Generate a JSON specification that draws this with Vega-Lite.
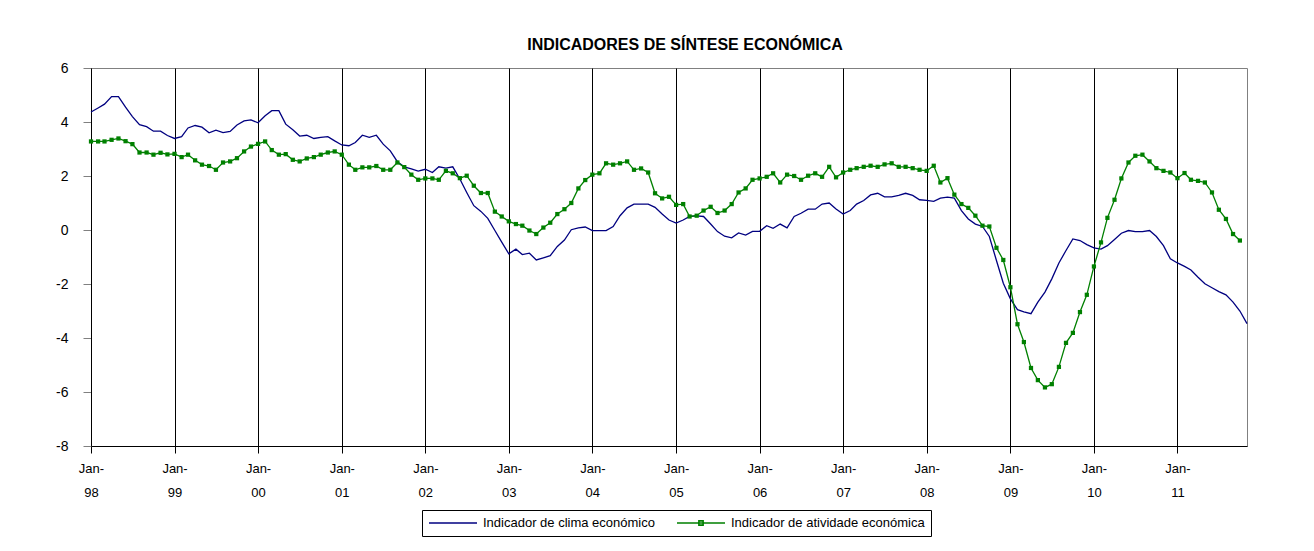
{
  "$schema": "https://vega.github.io/schema/vega-lite/v6.json",
  "width": 1156,
  "height": 378,
  "autosize": {"type": "none"},
  "padding": {"left": 91, "top": 68, "right": 67, "bottom": 105},
  "background": "white",
  "title": {"text": "INDICADORES DE SÍNTESE ECONÓMICA", "font": "Liberation Sans", "fontSize": 16, "fontWeight": "bold", "color": "#000000", "offset": 8, "anchor": "middle", "dx": 16},
  "data": {"values": [
    {"mes":"1998-01-01","clima":4.37,"atividade":3.28},{"mes":"1998-02-01","clima":4.52,"atividade":3.28},{"mes":"1998-03-01","clima":4.66,"atividade":3.28},{"mes":"1998-04-01","clima":4.94,"atividade":3.34},{"mes":"1998-05-01","clima":4.94,"atividade":3.39},{"mes":"1998-06-01","clima":4.55,"atividade":3.29},{"mes":"1998-07-01","clima":4.20,"atividade":3.18},{"mes":"1998-08-01","clima":3.90,"atividade":2.87},{"mes":"1998-09-01","clima":3.83,"atividade":2.87},{"mes":"1998-10-01","clima":3.66,"atividade":2.79},{"mes":"1998-11-01","clima":3.66,"atividade":2.86},{"mes":"1998-12-01","clima":3.50,"atividade":2.80},
    {"mes":"1999-01-01","clima":3.39,"atividade":2.82},{"mes":"1999-02-01","clima":3.46,"atividade":2.70},{"mes":"1999-03-01","clima":3.78,"atividade":2.79},{"mes":"1999-04-01","clima":3.87,"atividade":2.58},{"mes":"1999-05-01","clima":3.81,"atividade":2.42},{"mes":"1999-06-01","clima":3.60,"atividade":2.37},{"mes":"1999-07-01","clima":3.70,"atividade":2.23},{"mes":"1999-08-01","clima":3.61,"atividade":2.50},{"mes":"1999-09-01","clima":3.65,"atividade":2.54},{"mes":"1999-10-01","clima":3.89,"atividade":2.66},{"mes":"1999-11-01","clima":4.04,"atividade":2.91},{"mes":"1999-12-01","clima":4.08,"atividade":3.09},
    {"mes":"2000-01-01","clima":3.97,"atividade":3.19},{"mes":"2000-02-01","clima":4.23,"atividade":3.28},{"mes":"2000-03-01","clima":4.42,"atividade":2.96},{"mes":"2000-04-01","clima":4.42,"atividade":2.79},{"mes":"2000-05-01","clima":3.92,"atividade":2.81},{"mes":"2000-06-01","clima":3.71,"atividade":2.60},{"mes":"2000-07-01","clima":3.48,"atividade":2.54},{"mes":"2000-08-01","clima":3.51,"atividade":2.65},{"mes":"2000-09-01","clima":3.39,"atividade":2.70},{"mes":"2000-10-01","clima":3.43,"atividade":2.79},{"mes":"2000-11-01","clima":3.46,"atividade":2.87},{"mes":"2000-12-01","clima":3.30,"atividade":2.91},
    {"mes":"2001-01-01","clima":3.15,"atividade":2.79},{"mes":"2001-02-01","clima":3.12,"atividade":2.42},{"mes":"2001-03-01","clima":3.24,"atividade":2.23},{"mes":"2001-04-01","clima":3.51,"atividade":2.32},{"mes":"2001-05-01","clima":3.43,"atividade":2.32},{"mes":"2001-06-01","clima":3.51,"atividade":2.37},{"mes":"2001-07-01","clima":3.18,"atividade":2.23},{"mes":"2001-08-01","clima":2.93,"atividade":2.23},{"mes":"2001-09-01","clima":2.53,"atividade":2.50},{"mes":"2001-10-01","clima":2.34,"atividade":2.33},{"mes":"2001-11-01","clima":2.26,"atividade":2.05},{"mes":"2001-12-01","clima":2.18,"atividade":1.86},
    {"mes":"2002-01-01","clima":2.25,"atividade":1.91},{"mes":"2002-02-01","clima":2.13,"atividade":1.91},{"mes":"2002-03-01","clima":2.34,"atividade":1.86},{"mes":"2002-04-01","clima":2.29,"atividade":2.19},{"mes":"2002-05-01","clima":2.34,"atividade":2.10},{"mes":"2002-06-01","clima":1.89,"atividade":1.92},{"mes":"2002-07-01","clima":1.39,"atividade":2.01},{"mes":"2002-08-01","clima":0.90,"atividade":1.64},{"mes":"2002-09-01","clima":0.69,"atividade":1.37},{"mes":"2002-10-01","clima":0.43,"atividade":1.37},{"mes":"2002-11-01","clima":-0.02,"atividade":0.68},{"mes":"2002-12-01","clima":-0.45,"atividade":0.50},
    {"mes":"2003-01-01","clima":-0.88,"atividade":0.32},{"mes":"2003-02-01","clima":-0.71,"atividade":0.22},{"mes":"2003-03-01","clima":-0.91,"atividade":0.16},{"mes":"2003-04-01","clima":-0.86,"atividade":-0.02},{"mes":"2003-05-01","clima":-1.11,"atividade":-0.15},{"mes":"2003-06-01","clima":-1.03,"atividade":0.09},{"mes":"2003-07-01","clima":-0.95,"atividade":0.27},{"mes":"2003-08-01","clima":-0.61,"atividade":0.59},{"mes":"2003-09-01","clima":-0.37,"atividade":0.77},{"mes":"2003-10-01","clima":0.01,"atividade":1.00},{"mes":"2003-11-01","clima":0.08,"atividade":1.54},{"mes":"2003-12-01","clima":0.11,"atividade":1.85},
    {"mes":"2004-01-01","clima":-0.02,"atividade":2.05},{"mes":"2004-02-01","clima":-0.02,"atividade":2.10},{"mes":"2004-03-01","clima":-0.02,"atividade":2.47},{"mes":"2004-04-01","clima":0.13,"atividade":2.42},{"mes":"2004-05-01","clima":0.53,"atividade":2.47},{"mes":"2004-06-01","clima":0.82,"atividade":2.54},{"mes":"2004-07-01","clima":0.96,"atividade":2.23},{"mes":"2004-08-01","clima":0.96,"atividade":2.28},{"mes":"2004-09-01","clima":0.96,"atividade":2.13},{"mes":"2004-10-01","clima":0.84,"atividade":1.36},{"mes":"2004-11-01","clima":0.59,"atividade":1.17},{"mes":"2004-12-01","clima":0.37,"atividade":1.23},
    {"mes":"2005-01-01","clima":0.26,"atividade":0.93},{"mes":"2005-02-01","clima":0.37,"atividade":0.96},{"mes":"2005-03-01","clima":0.50,"atividade":0.50},{"mes":"2005-04-01","clima":0.52,"atividade":0.53},{"mes":"2005-05-01","clima":0.50,"atividade":0.72},{"mes":"2005-06-01","clima":0.22,"atividade":0.86},{"mes":"2005-07-01","clima":-0.06,"atividade":0.63},{"mes":"2005-08-01","clima":-0.23,"atividade":0.72},{"mes":"2005-09-01","clima":-0.29,"atividade":0.96},{"mes":"2005-10-01","clima":-0.11,"atividade":1.39},{"mes":"2005-11-01","clima":-0.19,"atividade":1.54},{"mes":"2005-12-01","clima":-0.05,"atividade":1.86},
    {"mes":"2006-01-01","clima":-0.05,"atividade":1.91},{"mes":"2006-02-01","clima":0.16,"atividade":1.97},{"mes":"2006-03-01","clima":0.06,"atividade":2.10},{"mes":"2006-04-01","clima":0.22,"atividade":1.76},{"mes":"2006-05-01","clima":0.08,"atividade":2.05},{"mes":"2006-06-01","clima":0.50,"atividade":2.00},{"mes":"2006-07-01","clima":0.62,"atividade":1.86},{"mes":"2006-08-01","clima":0.77,"atividade":2.01},{"mes":"2006-09-01","clima":0.77,"atividade":2.10},{"mes":"2006-10-01","clima":0.96,"atividade":1.97},{"mes":"2006-11-01","clima":1.00,"atividade":2.34},{"mes":"2006-12-01","clima":0.78,"atividade":1.95},
    {"mes":"2007-01-01","clima":0.59,"atividade":2.13},{"mes":"2007-02-01","clima":0.72,"atividade":2.23},{"mes":"2007-03-01","clima":0.96,"atividade":2.29},{"mes":"2007-04-01","clima":1.09,"atividade":2.34},{"mes":"2007-05-01","clima":1.30,"atividade":2.38},{"mes":"2007-06-01","clima":1.36,"atividade":2.34},{"mes":"2007-07-01","clima":1.23,"atividade":2.43},{"mes":"2007-08-01","clima":1.23,"atividade":2.47},{"mes":"2007-09-01","clima":1.28,"atividade":2.34},{"mes":"2007-10-01","clima":1.36,"atividade":2.34},{"mes":"2007-11-01","clima":1.28,"atividade":2.29},{"mes":"2007-12-01","clima":1.12,"atividade":2.23},
    {"mes":"2008-01-01","clima":1.10,"atividade":2.19},{"mes":"2008-02-01","clima":1.06,"atividade":2.38},{"mes":"2008-03-01","clima":1.18,"atividade":1.76},{"mes":"2008-04-01","clima":1.22,"atividade":1.92},{"mes":"2008-05-01","clima":1.18,"atividade":1.31},{"mes":"2008-06-01","clima":0.72,"atividade":0.96},{"mes":"2008-07-01","clima":0.41,"atividade":0.82},{"mes":"2008-08-01","clima":0.22,"atividade":0.53},{"mes":"2008-09-01","clima":0.13,"atividade":0.16},{"mes":"2008-10-01","clima":-0.24,"atividade":0.13},{"mes":"2008-11-01","clima":-1.13,"atividade":-0.66},{"mes":"2008-12-01","clima":-1.97,"atividade":-1.11},
    {"mes":"2009-01-01","clima":-2.55,"atividade":-2.12},{"mes":"2009-02-01","clima":-2.95,"atividade":-3.49},{"mes":"2009-03-01","clima":-3.03,"atividade":-4.15},{"mes":"2009-04-01","clima":-3.10,"atividade":-5.11},{"mes":"2009-05-01","clima":-2.67,"atividade":-5.56},{"mes":"2009-06-01","clima":-2.30,"atividade":-5.83},{"mes":"2009-07-01","clima":-1.81,"atividade":-5.71},{"mes":"2009-08-01","clima":-1.22,"atividade":-5.07},{"mes":"2009-09-01","clima":-0.76,"atividade":-4.18},{"mes":"2009-10-01","clima":-0.33,"atividade":-3.81},{"mes":"2009-11-01","clima":-0.39,"atividade":-3.04},{"mes":"2009-12-01","clima":-0.54,"atividade":-2.40},
    {"mes":"2010-01-01","clima":-0.66,"atividade":-1.35},{"mes":"2010-02-01","clima":-0.71,"atividade":-0.46},{"mes":"2010-03-01","clima":-0.58,"atividade":0.45},{"mes":"2010-04-01","clima":-0.35,"atividade":1.12},{"mes":"2010-05-01","clima":-0.12,"atividade":1.91},{"mes":"2010-06-01","clima":-0.02,"atividade":2.50},{"mes":"2010-07-01","clima":-0.06,"atividade":2.75},{"mes":"2010-08-01","clima":-0.06,"atividade":2.79},{"mes":"2010-09-01","clima":-0.02,"atividade":2.54},{"mes":"2010-10-01","clima":-0.24,"atividade":2.29},{"mes":"2010-11-01","clima":-0.58,"atividade":2.19},{"mes":"2010-12-01","clima":-1.07,"atividade":2.13},
    {"mes":"2011-01-01","clima":-1.22,"atividade":1.92},{"mes":"2011-02-01","clima":-1.35,"atividade":2.11},{"mes":"2011-03-01","clima":-1.48,"atividade":1.86},{"mes":"2011-04-01","clima":-1.75,"atividade":1.82},{"mes":"2011-05-01","clima":-1.99,"atividade":1.76},{"mes":"2011-06-01","clima":-2.14,"atividade":1.39},{"mes":"2011-07-01","clima":-2.28,"atividade":0.75},{"mes":"2011-08-01","clima":-2.40,"atividade":0.41},{"mes":"2011-09-01","clima":-2.67,"atividade":-0.15},{"mes":"2011-10-01","clima":-3.00,"atividade":-0.39},{"mes":"2011-11-01","clima":-3.47,"atividade":null}
  ]},
  "transform": [{"fold": ["clima", "atividade"], "as": ["serie", "valor"]}],
  "layer": [
    {
      "mark": {"type": "line", "strokeWidth": 1.3},
      "encoding": {
        "x": {
          "field": "mes", "type": "temporal",
          "scale": {"type": "utc", "domain": [{"year": 1998, "month": 1, "date": 1, "utc": true}, {"year": 2011, "month": 11, "date": 1, "utc": true}]},
          "axis": {
            "title": null,
            "values": [
              {"year": 1998, "month": 1, "date": 1, "utc": true},{"year": 1999, "month": 1, "date": 1, "utc": true},{"year": 2000, "month": 1, "date": 1, "utc": true},{"year": 2001, "month": 1, "date": 1, "utc": true},{"year": 2002, "month": 1, "date": 1, "utc": true},{"year": 2003, "month": 1, "date": 1, "utc": true},{"year": 2004, "month": 1, "date": 1, "utc": true},{"year": 2005, "month": 1, "date": 1, "utc": true},{"year": 2006, "month": 1, "date": 1, "utc": true},{"year": 2007, "month": 1, "date": 1, "utc": true},{"year": 2008, "month": 1, "date": 1, "utc": true},{"year": 2009, "month": 1, "date": 1, "utc": true},{"year": 2010, "month": 1, "date": 1, "utc": true},{"year": 2011, "month": 1, "date": 1, "utc": true}
            ],
            "labelExpr": "['Jan-', utcFormat(datum.value, '%y')]",
            "grid": true, "gridColor": "#000000", "gridOpacity": 1, "gridWidth": 1,
            "tickColor": "#000000", "tickSize": 7, "domainColor": "#000000",
            "labelFont": "Liberation Sans", "labelFontSize": 13, "labelColor": "#000000",
            "labelPadding": 9, "labelLineHeight": 24, "labelAngle": 0, "labelFlush": false, "labelOverlap": false
          }
        },
        "y": {
          "field": "valor", "type": "quantitative",
          "scale": {"domain": [-8, 6], "nice": false, "zero": false},
          "axis": {
            "title": null, "values": [-8, -6, -4, -2, 0, 2, 4, 6], "grid": false,
            "labelExpr": "datum.value < 0 ? '-' + abs(datum.value) : '' + datum.value",
            "domainColor": "#000000", "tickColor": "#808080", "tickSize": 8,
            "labelFont": "Liberation Sans", "labelFontSize": 14, "labelColor": "#000000", "labelPadding": 15
          }
        },
        "color": {
          "field": "serie", "type": "nominal",
          "scale": {"domain": ["clima", "atividade"], "range": ["#000080", "#008000"]},
          "legend": {
            "orient": "none", "legendX": 331, "legendY": 442, "direction": "horizontal", "title": null,
            "symbolType": "stroke", "symbolSize": 144, "symbolStrokeWidth": 1.6,
            "labelExpr": "datum.value == 'clima' ? 'Indicador de clima económico' : 'Indicador de atividade económica'",
            "labelFont": "Liberation Sans", "labelFontSize": 13, "labelColor": "#000000", "labelLimit": 400, "labelOffset": 41,
            "strokeColor": "#000000", "padding": 6, "columnPadding": 18,
            "encode": {"symbols": {"update": {"shape": {"signal": "datum.value == 'atividade' ? 'M-1,0H7M2.65,-0.35H3.35V0.35H2.65Z' : 'M-1,0H7'"}}}}
          }
        }
      }
    },
    {
      "transform": [{"filter": "datum.serie == 'atividade' && isValid(datum.valor)"}],
      "mark": {"type": "point", "shape": "square", "filled": true, "size": 18, "color": "#008000", "opacity": 1},
      "encoding": {
        "x": {"field": "mes", "type": "temporal"},
        "y": {"field": "valor", "type": "quantitative"}
      }
    }
  ],
  "config": {"view": {"stroke": "#808080", "strokeWidth": 1}}
}
